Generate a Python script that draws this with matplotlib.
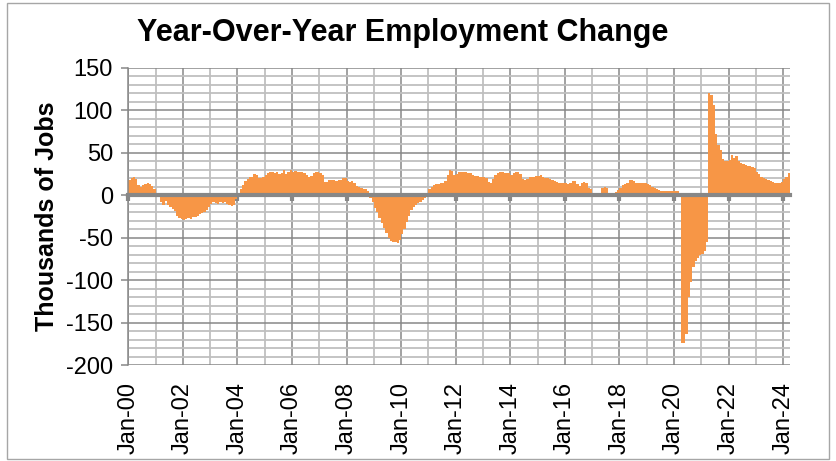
import numpy as np
import matplotlib.pyplot as plt
from matplotlib.ticker import MultipleLocator
from matplotlib.patches import Rectangle

plt.rcParams['font.family'] = ['Liberation Sans', 'DejaVu Sans']
plt.rcParams['axes.unicode_minus'] = False

# year-over-year change, thousands of jobs, monthly from Jan-2000
y2000 = [18, 20, 22, 19, 12, 10, 12, 13, 14, 13, 11, 7]
y2001 = [2, -2, -8, -12, -7, -12, -14, -16, -18, -24, -27, -28]
y2002 = [-29, -28, -27, -28, -26, -25, -24, -22, -21, -20, -17, -14]
y2003 = [-10, -8, -9, -10, -8, -9, -8, -10, -12, -13, -11, -4]
y2004 = [3, 7, 12, 17, 19, 21, 22, 25, 24, 20, 20, 21]
y2005 = [24, 26, 27, 27, 26, 27, 25, 26, 30, 25, 27, 30]
y2006 = [28, 29, 28, 27, 28, 26, 24, 22, 23, 26, 27, 27]
y2007 = [26, 24, 16, 16, 18, 18, 18, 17, 18, 18, 20, 20]
y2008 = [17, 16, 17, 15, 11, 10, 9, 8, 7, 5, -3, -8]
y2009 = [-15, -20, -27, -33, -38, -44, -50, -54, -55, -55, -56, -53]
y2010 = [-46, -40, -32, -24, -17, -14, -11, -9, -8, -5, -3, 3]
y2011 = [7, 10, 12, 13, 13, 14, 15, 17, 24, 30, 29, 24]
y2012 = [25, 28, 28, 27, 28, 26, 26, 24, 23, 23, 22, 21]
y2013 = [21, 20, 16, 15, 19, 24, 26, 27, 27, 26, 26, 26]
y2014 = [24, 26, 28, 28, 25, 19, 18, 19, 21, 22, 22, 23]
y2015 = [23, 24, 22, 20, 20, 19, 18, 17, 16, 15, 14, 15]
y2016 = [14, 13, 15, 17, 17, 13, 11, 15, 16, 14, 9, 7]
y2017 = [3, 2, 2, 2, 9, 10, 9, 2, 2, 2, 4, 6]
y2018 = [9, 12, 13, 15, 18, 18, 17, 15, 14, 14, 14, 14]
y2019 = [13, 12, 10, 9, 8, 6, 5, 5, 5, 5, 5, 5]
y2020 = [5, 5, 3, -174, -174, -163, -120, -102, -84, -78, -74, -70]
y2021 = [-69, -66, -55, 120, 118, 106, 72, 59, 53, 43, 40, 40]
y2022 = [42, 47, 44, 46, 40, 38, 37, 36, 35, 34, 33, 32]
y2023 = [28, 25, 22, 20, 19, 18, 17, 16, 15, 15, 15, 16]
y2024 = [19, 22, 26]

years = [y2000, y2001, y2002, y2003, y2004, y2005, y2006, y2007, y2008,
         y2009, y2010, y2011, y2012, y2013, y2014, y2015, y2016, y2017,
         y2018, y2019, y2020, y2021, y2022, y2023, y2024]
values = np.concatenate(years)
months = np.arange(len(values))

tick_labels = ['Jan-00', 'Jan-02', 'Jan-04', 'Jan-06', 'Jan-08', 'Jan-10', 'Jan-12',
               'Jan-14', 'Jan-16', 'Jan-18', 'Jan-20', 'Jan-22', 'Jan-24']

grey = '#878787'
light = '#bfbfbf'

fig = plt.figure(figsize=(8.36, 4.61), dpi=100)
ax = fig.add_axes([0.1535, 0.2082, 0.7915, 0.6443])

ax.bar(months, values, width=1.0, align='edge', color='#F79646', linewidth=0)

ax.set_xlim(0, len(values))
ax.set_ylim(-200, 150)
ax.xaxis.set_major_locator(MultipleLocator(24))
ax.xaxis.set_minor_locator(MultipleLocator(12))
ax.yaxis.set_major_locator(MultipleLocator(50))
ax.yaxis.set_minor_locator(MultipleLocator(10))

ax.set_axisbelow(True)
ax.grid(which='major', color=grey, lw=1.1)
ax.grid(which='minor', color=light, lw=1.3)

for s in ['top', 'right']:
    ax.spines[s].set_visible(False)
ax.spines['left'].set_color(grey)
ax.spines['left'].set_linewidth(1.1)
ax.spines['bottom'].set_position(('data', 0))
ax.spines['bottom'].set_color(grey)
ax.spines['bottom'].set_linewidth(3)

ax.tick_params(axis='x', which='major', direction='out', length=4, width=3,
               color=grey, labelbottom=False)
ax.tick_params(axis='both', which='minor', length=0)
ax.tick_params(axis='y', which='major', length=5, width=1.1, color=grey,
               labelsize=17, pad=6)

sec = ax.secondary_xaxis('bottom')
sec.set_xticks(np.arange(0, len(values), 24), tick_labels)
sec.tick_params(length=0, labelsize=17, labelrotation=90, pad=12)
sec.spines['bottom'].set_visible(False)

ax.set_ylabel('Thousands of Jobs', fontsize=18, fontweight='bold', labelpad=5)
fig.text(0.482, 0.928, 'Year-Over-Year Employment Change', ha='center', va='center',
         fontsize=22, fontweight='bold')

fig.patches.append(Rectangle((0.008, 0.004), 0.984, 0.99, transform=fig.transFigure,
                             fill=False, ec='#a6a6a6', lw=1))

fig.savefig('out.png', dpi=100)
